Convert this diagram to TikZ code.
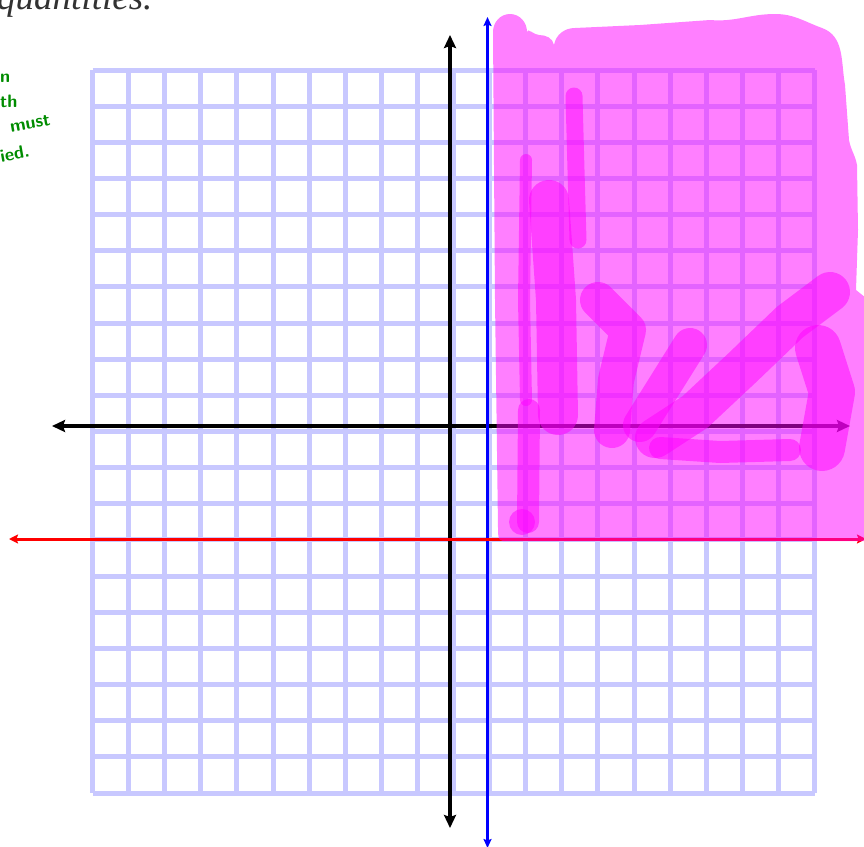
\documentclass[tikz,border=0pt]{standalone}
\usepackage{fontspec}
\usetikzlibrary{arrows.meta}
\newfontfamily\titlefont{Liberation Serif}
\definecolor{gridlav}{RGB}{200,200,255}
\definecolor{handgreen}{RGB}{0,140,0}
\definecolor{titlegray}{RGB}{50,50,50}
\definecolor{mag}{RGB}{255,0,255}
\begin{document}
\begin{tikzpicture}[x=1pt,y=-1pt,
  gridline/.style={gridlav,line width=5pt},
  axisblack/.style={black,line width=4.3pt,{Stealth[length=13pt,width=12pt,inset=2pt]}-{Stealth[length=13pt,width=12pt,inset=2pt]}},
  axisblue/.style={blue,line width=2.5pt,{Stealth[length=9pt,width=8pt,inset=1.5pt]}-{Stealth[length=9pt,width=8pt,inset=1.5pt]}},
  axisred/.style={red,line width=3pt,{Stealth[length=9pt,width=9pt,inset=1.5pt]}-{Stealth[length=9pt,width=9pt,inset=1.5pt]}},
  shade/.style={mag,opacity=0.5},
  scribble/.style={mag,opacity=0.5,line cap=round,line join=round},
  hand/.style={handgreen,font=\sffamily\bfseries\fontsize{18}{18}\selectfont,inner sep=0pt},
]
\useasboundingbox (0,0) rectangle (864,846);
% title fragment
\node[titlegray,anchor=base west,inner sep=0pt,font=\titlefont\itshape\fontsize{37}{37}\selectfont] (title) at (-3,9) {quantities.};
% handwritten fragments
\node[hand,anchor=west] (h1) at (0,78) {n};
\node[hand,anchor=west] (h2) at (0,101) {th};
\node[hand,anchor=west,rotate=10] (h3) at (10,127) {must};
\node[hand,anchor=west,rotate=10] (h4) at (0,156) {ied.};
% grid
\foreach \i in {0,...,20} {
  \draw[gridline] ({92.5+36.1*\i},70) -- ({92.5+36.1*\i},793);
  \draw[gridline] (92.5,{70+36.15*\i}) -- (814.5,{70+36.15*\i});
}
% axes
\coordinate (yt) at (450,35);
\coordinate (yb) at (450,828);
\coordinate (xl) at (52,426);
\coordinate (xr) at (850,426);
\draw[axisblack] (yb) -- (yt);
\draw[axisblack] (xl) -- (xr);
\coordinate (bt) at (487.5,17);
\coordinate (bb) at (487.5,848);
\draw[axisblue] (bb) -- (bt);
\coordinate (rl) at (9,539);
\coordinate (rr) at (866,539);
\draw[axisred] (rl) -- (rr);
% shaded region
\fill[shade] (503,541) to[out=180,in=-90] (498,528) -- (495,300) -- (493,32)
  to[out=90,in=180] (510,14) to[out=0,in=90] (527,32)
  to[out=90,in=180] (539,35) to[out=0,in=100] (554,45)
  to[out=80,in=180] (575,28) -- (640,25) -- (710,20)
  to[out=-5,in=180] (775,14) to[out=0,in=160] (822,28)
  to[out=-20,in=100] (845,85) -- (849,140) to[out=-80,in=100] (857,165)
  -- (858,230) -- (856,290) -- (866,298) -- (866,541) -- cycle;
% darker scribbles
\draw[scribble,line width=40pt] (549,200) -- (556,300) -- (558,415);
\draw[scribble,line width=17pt] (574,96) -- (576,170) -- (578,240);
\draw[scribble,line width=12pt] (526,160) -- (524,300) -- (526,400);
\draw[scribble,line width=22pt] (529,410) -- (528,522);
\fill[scribble] (522,522) circle (13);
\draw[scribble,line width=36pt] (598,300) -- (628,330) -- (616,380) -- (612,430);
\draw[scribble,line width=34pt] (690,345) -- (665,385) -- (640,425);
\draw[scribble,line width=40pt] (830,292) -- (790,322) -- (742,368) -- (695,412) -- (655,438);
\draw[scribble,line width=46pt] (818,348) -- (832,392) -- (822,448);
\draw[scribble,line width=22pt] (660,448) -- (720,452) -- (790,450);
\end{tikzpicture}
\end{document}
